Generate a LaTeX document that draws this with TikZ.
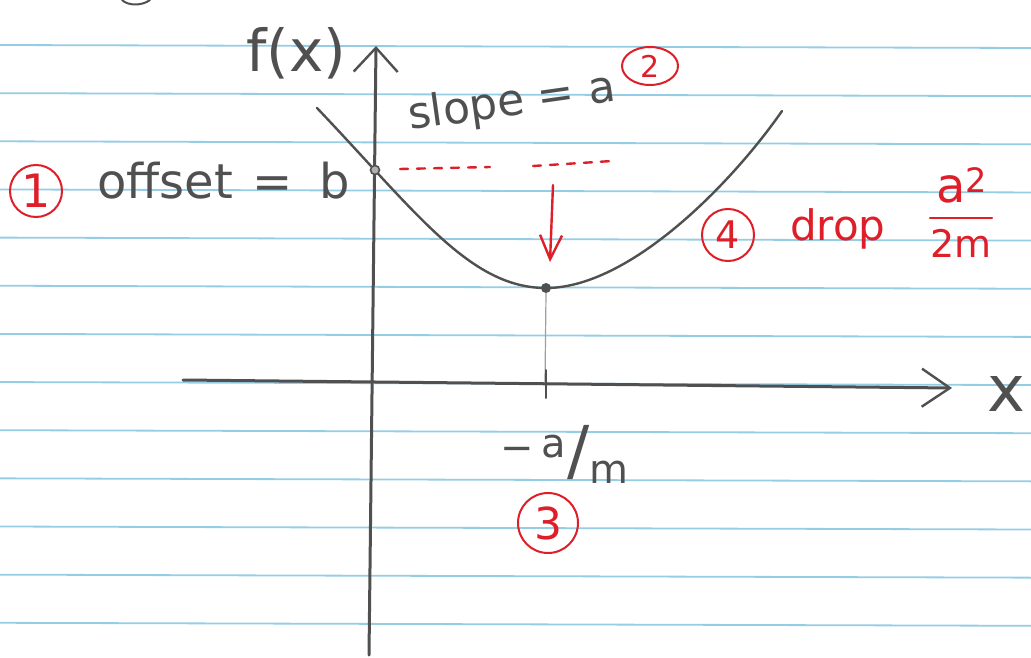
\documentclass[tikz,border=0pt]{standalone}
\usepackage{fontspec}
\setmainfont{DejaVu Sans}
\usepackage{tikz}
\usetikzlibrary{arrows.meta,shapes.geometric}
\definecolor{pencil}{RGB}{80,80,80}
\definecolor{redpen}{RGB}{222,30,40}
\definecolor{ruled}{RGB}{150,205,230}

\begin{document}
\begin{tikzpicture}[x=1pt,y=-1pt,
    pencil/.style={draw=pencil,line width=2.4pt,line cap=round,line join=round},
    redline/.style={draw=redpen,line width=2.4pt,line cap=round},
    hand/.style={text=pencil,inner sep=0pt},
    redhand/.style={text=redpen,inner sep=0pt},
    stepnum/.style={draw=redpen,line width=2pt,text=redpen,circle,inner sep=0pt}]
  \useasboundingbox[fill=white] (0,0) rectangle (1031,658);
  \foreach \k in {0,...,12}
    \draw[ruled,line width=1.8pt] (0,45+48.15*\k) -- (1031,48+48.15*\k);
  \draw[pencil,line width=2pt] (122,0) .. controls (128,6) and (142,6) .. (150,0);

  \coordinate (xl) at (183,380);
  \coordinate (xr) at (952,388);
  \coordinate (yb) at (369,655);
  \coordinate (yt) at (376,46);
  \draw[pencil,line width=3pt,-{Straight Barb[length=28pt,width=38pt,line width=2.4pt]}] (xl) -- (xr);
  \draw[pencil,line width=3pt,-{Straight Barb[length=24pt,width=44pt,line width=2.4pt]}] (yb) -- (yt);
  \node[hand,font=\fontsize{64}{64}\selectfont,anchor=base] (xlab) at (1006,411) {x};
  \node[hand,font=\fontsize{58}{60}\selectfont,anchor=base] (fx) at (296,72) {f(x)};

  \coordinate (cl) at (317,108);
  \coordinate (cm) at (546,288);
  \coordinate (cr) at (782,111);
  \draw[pencil] (cl) .. controls (417,213) and (470,288) .. (cm)
                     .. controls (630,288) and (732,183) .. (cr);
  \node[circle,draw=pencil,fill=pencil!45,line width=1.6pt,minimum size=9pt,inner sep=0pt] (bdot) at (375,170) {};
  \node[circle,fill=pencil,minimum size=10pt,inner sep=0pt] (vmin) at (cm) {};

  \coordinate (lvla) at (400,169);
  \coordinate (lvlb) at (490,167);
  \coordinate (lvlc) at (533,166);
  \coordinate (lvld) at (612,161);
  \draw[redline,dash pattern=on 8pt off 9pt] (lvla) -- (lvlb);
  \draw[redline,dash pattern=on 8pt off 9pt] (lvlc) -- (lvld);
  \coordinate (droptop) at (553,185);
  \coordinate (dropend) at (550,262);
  \draw[redline,-{Straight Barb[length=24pt,width=22pt,line width=2.4pt]}] (droptop) -- (dropend);

  \coordinate (foot) at (545,382);
  \coordinate (ticka) at (546,370);
  \coordinate (tickb) at (546,398);
  \draw[pencil!55,line width=1.2pt] (vmin.south) -- (foot);
  \draw[pencil,line width=2pt] (ticka) -- (tickb);

  \node[stepnum,minimum size=52pt,font=\fontsize{46}{46}\selectfont] (one) at (36,191) {1};
  \node[hand,font=\fontsize{48}{50}\selectfont,anchor=base west] (offset) at (97,198) {offset\hspace{20pt}=\hspace{26pt}b};
  \node[hand,font=\fontsize{44}{48}\selectfont,rotate=8,anchor=base west] (slope) at (410,130) {slope = a};
  \node[stepnum,ellipse,minimum width=56pt,minimum height=38pt,font=\fontsize{30}{30}\selectfont] (two) at (650,66) {2};
  \node[hand,font=\fontsize{40}{40}\selectfont,anchor=base west] (root) at (500,461)
    {−\kern8pt\raisebox{4pt}{a}\kern1pt\raisebox{-12pt}{\fontsize{66}{66}\selectfont/}\kern0pt\raisebox{-22pt}{m}};
  \node[stepnum,minimum size=60pt,font=\fontsize{44}{44}\selectfont] (three) at (548,523) {3};
  \node[stepnum,minimum size=52pt,font=\fontsize{38}{38}\selectfont] (four) at (728,235) {4};
  \node[redhand,font=\fontsize{42}{44}\selectfont,anchor=base west] (drop) at (790,240) {drop};
  \node[redhand,font=\fontsize{48}{48}\selectfont,anchor=base west] (num) at (936,202) {a\textsuperscript{2}};
  \coordinate (barl) at (930,218);
  \coordinate (barr) at (992,218);
  \draw[redline] (barl) -- (barr);
  \node[redhand,font=\fontsize{38}{40}\selectfont,anchor=base] (den) at (961,257) {2m};
\end{tikzpicture}
\end{document}
